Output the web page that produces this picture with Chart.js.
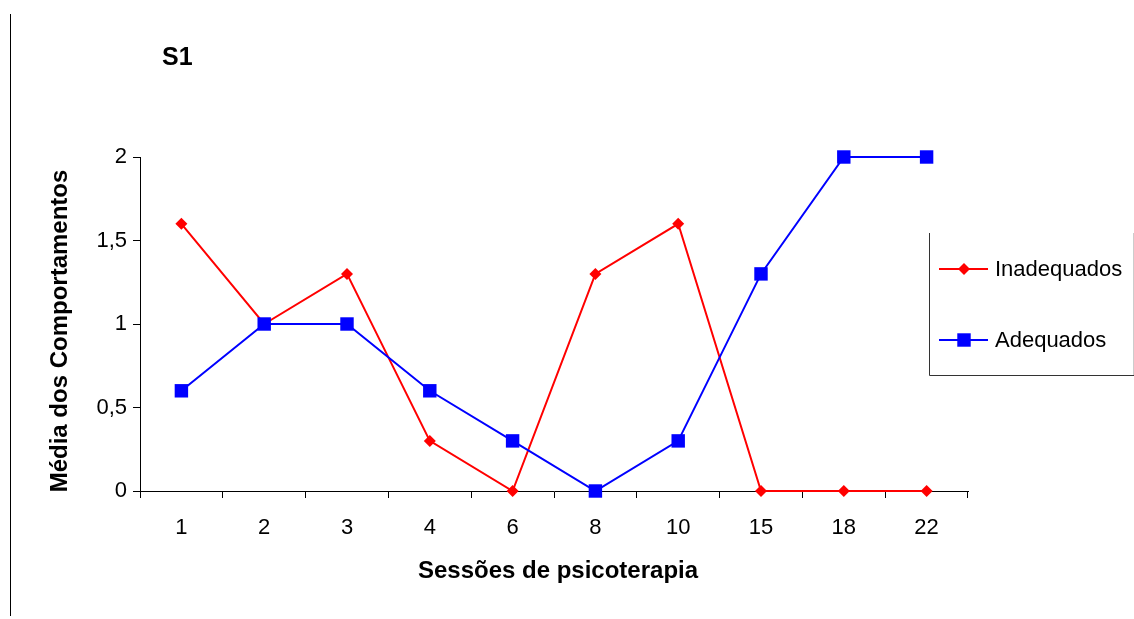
<!DOCTYPE html>
<html>
<head>
<meta charset="utf-8">
<script src="https://cdn.jsdelivr.net/npm/chart.js@4/dist/chart.umd.min.js"></script>
<style>
  html, body { margin: 0; padding: 0; background: #fff; }
</style>
</head>
<body>
<canvas id="chart" width="1134" height="619"></canvas>
<script>
// ═══ DATA ═══
const sessions = ['1', '2', '3', '4', '6', '8', '10', '15', '18', '22'];
const inadequados = [1.6, 1, 1.3, 0.3, 0, 1.3, 1.6, 0, 0, 0];
const adequados = [0.6, 1, 1, 0.6, 0.3, 0, 0.3, 1.3, 2, 2];
const yTicks = [0, 0.5, 1, 1.5, 2];

const FONT = '"Liberation Sans", Arial, sans-serif';

// ═══ EXTRA DRAWING: frame line, title, axis titles, legend ═══
const decor = {
  id: 'decor',
  afterDraw(chart) {
    const ctx = chart.ctx;
    ctx.save();
    // left page line
    ctx.strokeStyle = '#000';
    ctx.lineWidth = 1;
    ctx.beginPath();
    ctx.moveTo(10.5, 14);
    ctx.lineTo(10.5, 616);
    ctx.stroke();

    ctx.fillStyle = '#000';
    ctx.textBaseline = 'alphabetic';
    // title
    ctx.font = 'bold 25px ' + FONT;
    ctx.textAlign = 'left';
    ctx.fillText('S1', 162, 65);

    // x title
    ctx.font = 'bold 24px ' + FONT;
    ctx.textAlign = 'center';
    ctx.fillText('Sessões de psicoterapia', 558, 578);

    // y title
    ctx.save();
    ctx.translate(67, 331);
    ctx.rotate(-Math.PI / 2);
    ctx.fillText('Média dos Comportamentos', 0, 0);
    ctx.restore();

    // legend box
    ctx.strokeStyle = '#333';
    ctx.beginPath();
    ctx.moveTo(929.5, 233);
    ctx.lineTo(929.5, 375.5);
    ctx.lineTo(1134, 375.5);
    ctx.stroke();
    ctx.strokeStyle = '#ccc';
    ctx.beginPath();
    ctx.moveTo(1133.5, 233);
    ctx.lineTo(1133.5, 375);
    ctx.stroke();

    const items = [
      { label: chart.data.datasets[0].label, color: '#ff0000', style: 'rectRot', r: 6, y: 269 },
      { label: chart.data.datasets[1].label, color: '#0000ff', style: 'rect', r: 9.5, y: 340 }
    ];
    items.forEach(it => {
      ctx.strokeStyle = it.color;
      ctx.lineWidth = 2;
      ctx.beginPath();
      ctx.moveTo(939, it.y);
      ctx.lineTo(988, it.y);
      ctx.stroke();
      ctx.fillStyle = it.color;
      Chart.helpers.drawPoint(ctx, { pointStyle: it.style, radius: it.r, borderWidth: 0 }, 964, it.y);
      ctx.fillStyle = '#000';
      ctx.font = '22px ' + FONT;
      ctx.textAlign = 'left';
      ctx.textBaseline = 'middle';
      ctx.fillText(it.label, 995, it.y + 1);
    });
    ctx.restore();
  }
};

new Chart(document.getElementById('chart'), {
  type: 'line',
  data: {
    labels: sessions,
    datasets: [
      {
        label: 'Inadequados',
        data: inadequados,
        borderColor: '#ff0000',
        backgroundColor: '#ff0000',
        borderWidth: 2,
        pointStyle: 'rectRot',
        pointRadius: 6,
        pointBorderWidth: 0,
        tension: 0,
        clip: false,
        order: 1
      },
      {
        label: 'Adequados',
        data: adequados,
        borderColor: '#0000ff',
        backgroundColor: '#0000ff',
        borderWidth: 2,
        pointStyle: 'rect',
        pointRadius: 9.5,
        pointBorderWidth: 0,
        tension: 0,
        clip: false,
        order: 0
      }
    ]
  },
  options: {
    responsive: false,
    animation: false,
    devicePixelRatio: 1,
    layout: { padding: { top: 157, right: 166, left: 0, bottom: 0 } },
    plugins: {
      legend: { display: false },
      title: { display: false },
      tooltip: { enabled: false }
    },
    scales: {
      x: {
        offset: true,
        afterFit: s => { s.height = 128; },
        grid: { offset: true, drawOnChartArea: false, tickLength: 7, color: '#000' },
        border: { color: '#000', width: 1 },
        ticks: { color: '#000', font: { family: FONT, size: 22 }, padding: 17, maxRotation: 0 }
      },
      y: {
        min: 0,
        max: 2,
        afterFit: s => { s.width = 140; },
        afterBuildTicks: s => { s.ticks = yTicks.map(v => ({ value: v })); },
        grid: { drawOnChartArea: false, tickLength: 7, color: '#000' },
        border: { color: '#000', width: 1 },
        ticks: {
          color: '#000',
          font: { family: FONT, size: 22 },
          padding: 6,
          callback: v => String(v).replace('.', ',')
        }
      }
    }
  },
  plugins: [decor]
});
</script>
</body>
</html>
